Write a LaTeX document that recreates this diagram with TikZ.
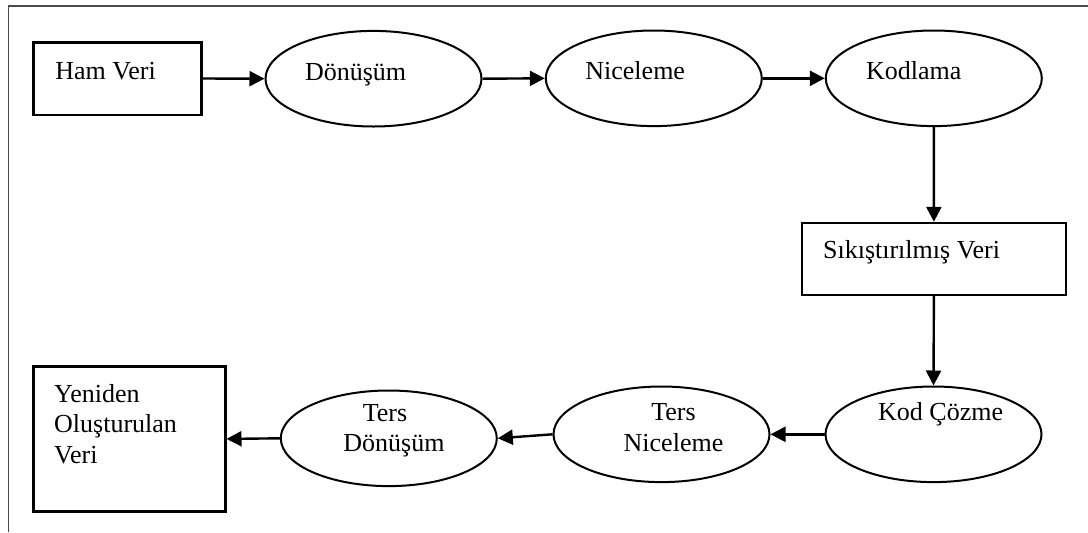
\documentclass[tikz,border=0pt]{standalone}
\usepackage{fontspec}
\setmainfont{Liberation Serif}
\usepackage{tikz}
\usetikzlibrary{arrows.meta,shapes.geometric}
\definecolor{FrameGray}{HTML}{4a4a4a}

\begin{document}
\begin{tikzpicture}[x=0.5pt,y=-0.5pt,
    font=\fontsize{13}{15.3}\selectfont,
    databox/.style={draw,line width=1.2pt,inner sep=0pt},
    stage/.style={ellipse,draw,line width=1pt,inner sep=0pt,
      minimum width=108pt,minimum height=47.8pt},
    lbl/.style={inner sep=0pt,anchor=base west},
    lblc/.style={inner sep=0pt,anchor=base},
    flow/.style={-{Triangle[length=7.5pt,width=7.5pt]},line width=1.2pt}]
    \useasboundingbox (0,0) rectangle (1088,532);
    \draw[FrameGray,line width=0.7pt] (8.3,532) -- (8.3,6) -- (1088,6);

    \node[databox,minimum width=84pt,minimum height=36.2pt] (hamveri) at (117.3,78.5) {};
    \node[stage] (donusum) at (373.5,78.7) {};
    \node[stage] (niceleme) at (653.8,78.3) {};
    \node[stage] (kodlama) at (933.8,78.3) {};
    \node[databox,minimum width=132pt,minimum height=35.9pt] (sikistirilmis) at (933.9,258.9) {};
    \node[stage] (kodcozme) at (933.5,434.3) {};
    \node[stage] (tersniceleme) at (661.5,434.3) {};
    \node[stage] (tersdonusum) at (388.8,438.3) {};
    \node[databox,minimum width=96pt,minimum height=72.6pt] (yeniden) at (129.3,438.9) {};

    \node[lbl] (hamveriT) at (55,79) {Ham Veri};
    \node[lbl] (donusumT) at (304.6,80) {Dönüşüm};
    \node[lbl] (nicelemeT) at (585,79.3) {Niceleme};
    \node[lbl] (kodlamaT) at (865.6,79) {Kodlama};
    \node[lbl] (sikistirilmisT) at (822.7,258.3) {Sıkıştırılmış Veri};
    \node[lbl] (kodcozmeT) at (877.8,420) {Kod Çözme};
    \node[lblc] (tersnicA) at (673.5,420) {Ters};
    \node[lblc] (tersnicB) at (673.5,451) {Niceleme};
    \node[lblc] (tersdonA) at (385,421.7) {Ters};
    \node[lblc] (tersdonB) at (394,451.7) {Dönüşüm};
    \node[lbl] (yenidenA) at (53.8,402) {Yeniden};
    \node[lbl] (yenidenB) at (53.8,432.7) {Oluşturulan};
    \node[lbl] (yenidenC) at (53.8,463.3) {Veri};

    \draw[flow] (hamveri.east) -- (donusum.west);
    \draw[flow] (donusum.east) -- (niceleme.west);
    \draw[flow] (niceleme.east) -- (kodlama.west);
    \draw[flow] (kodlama.south) -- (sikistirilmis.north);
    \draw[flow] (sikistirilmis.south) -- (kodcozme.north);
    \draw[flow] (kodcozme.west) -- (tersniceleme.east);
    \draw[flow] (tersniceleme.west) -- (tersdonusum.east);
    \draw[flow] (tersdonusum.west) -- (yeniden.east);
\end{tikzpicture}
\end{document}
